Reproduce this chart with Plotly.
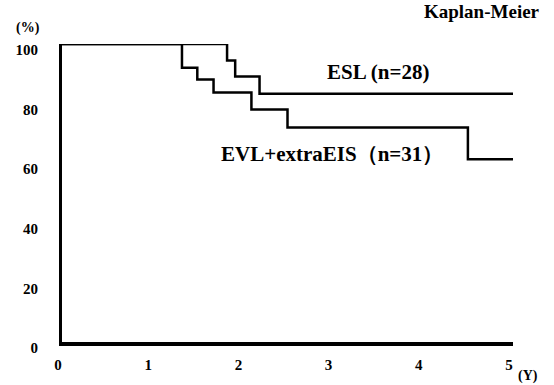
import plotly.graph_objects as go

# Kaplan-Meier step data (years, %)
esl_t = [0, 1.83, 1.92, 2.19, 5.0]
esl_s = [100, 94.5, 89.1, 83.3, 83.3]
evl_t = [0, 1.33, 1.50, 1.68, 2.10, 2.50, 4.50, 5.0]
evl_s = [100, 92.0, 88.1, 83.7, 78.0, 72.0, 61.3, 61.3]

x_ticks = [0, 1, 2, 3, 4, 5]
y_ticks = [0, 20, 40, 60, 80, 100]

FONT = "Liberation Serif"

fig = go.Figure()
fig.add_trace(go.Scatter(x=evl_t, y=evl_s, mode="lines", line=dict(shape="hv", color="black", width=2.5),
                         cliponaxis=False, showlegend=False, hoverinfo="skip"))
fig.add_trace(go.Scatter(x=esl_t, y=esl_s, mode="lines", line=dict(shape="hv", color="black", width=2.5),
                         cliponaxis=False, showlegend=False, hoverinfo="skip"))

fig.update_layout(
    width=554, height=385,
    margin=dict(l=62, r=41, t=44, b=43, autoexpand=False),
    paper_bgcolor="white", plot_bgcolor="white",
    font=dict(family=FONT, color="black"),
    xaxis=dict(range=[0, 5], tickvals=x_ticks, ticktext=[str(v) for v in x_ticks],
               showgrid=False, zeroline=False, showline=True, linecolor="black", linewidth=3.5,
               ticks="", tickfont=dict(family=FONT, size=15, color="black", weight="bold"),
               ticklabelshift=-4, ticklabelstandoff=6, automargin=False),
    yaxis=dict(range=[0, 100], tickvals=y_ticks, ticktext=[str(v) for v in y_ticks],
               showgrid=False, zeroline=False, showline=True, linecolor="black", linewidth=3,
               ticks="", tickfont=dict(family=FONT, size=15, color="black", weight="bold"),
               ticklabelshift=6, ticklabelstandoff=18, automargin=False),
)

ann_font = lambda s: dict(family=FONT, size=s, color="black", weight="bold")
fig.add_annotation(text="Kaplan-Meier", x=482, y=12, showarrow=False, font=ann_font(19))
fig.add_annotation(text="(%)", x=28, y=28, showarrow=False, font=ann_font(14))
fig.add_annotation(text="(Y)", x=528, y=376, showarrow=False, font=ann_font(14))
fig.add_annotation(text="ESL (n=28)", x=378, y=72, showarrow=False, font=ann_font(21))
fig.add_annotation(text="EVL+extraEIS（n=31）", x=332, y=154, showarrow=False, font=ann_font(21))

# convert pixel positions of annotations to paper coords
pl, pr, pt, pb = 62, 554 - 41, 44, 385 - 43
for a in fig.layout.annotations:
    px, py = a.x, a.y
    a.xref = "paper"; a.yref = "paper"
    a.x = (px - pl) / (pr - pl)
    a.y = (pb - py) / (pb - pt)
    a.xanchor = "center"; a.yanchor = "middle"

fig.write_html("out.html", config={"displayModeBar": False},
               post_script="document.body.style.margin='0';")
